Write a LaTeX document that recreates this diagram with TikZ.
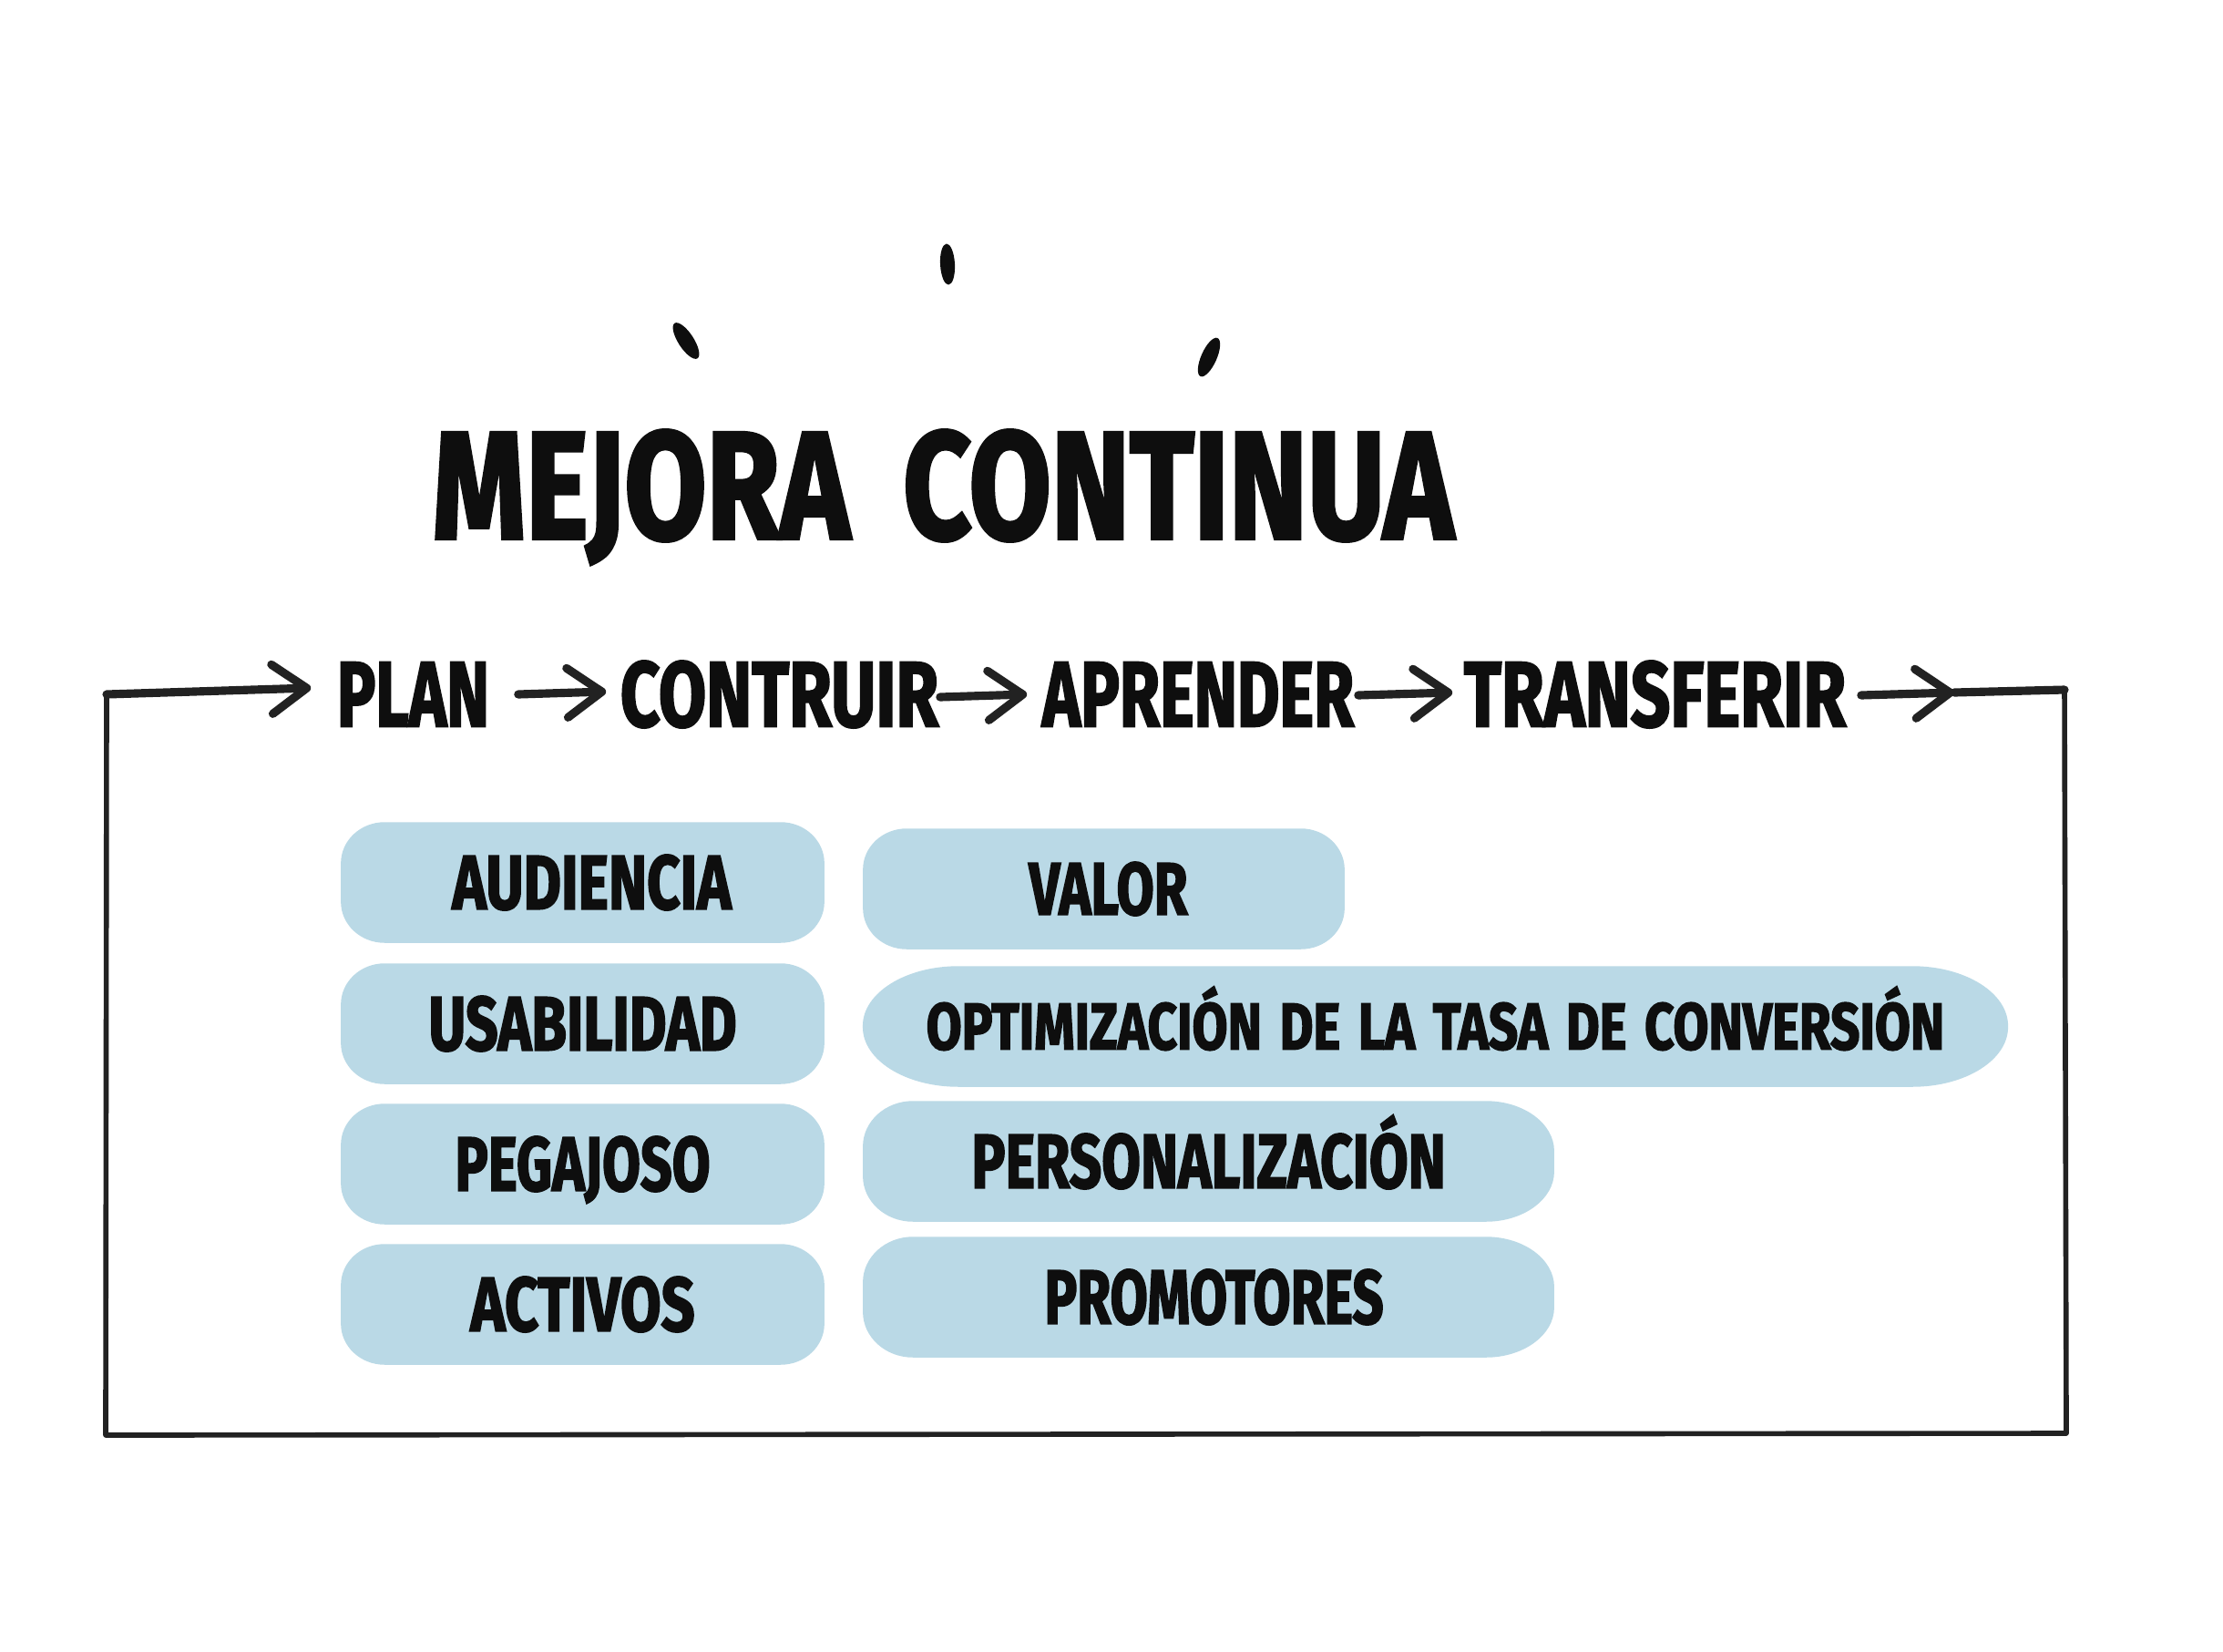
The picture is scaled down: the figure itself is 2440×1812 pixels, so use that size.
\documentclass[tikz,border=0pt]{standalone}
\usepackage{fontspec}
\usepackage{graphicx}
\usetikzlibrary{arrows.meta}
\newfontfamily\brush{Fira Sans}[FakeBold=2.5]
\definecolor{boxblue}{HTML}{BAD9E6}
\definecolor{ink}{HTML}{0E0E0E}
\definecolor{stroke}{HTML}{222222}
\pgfdeclarelayer{paper}
\pgfdeclarelayer{bg}
\pgfsetlayers{paper,bg,main}
% text squeezed to a given width and cap height (accents may stick out above)
\newcommand{\fitto}[3]{\resizebox{#1}{#2}{\brush\bfseries\raisebox{0pt}[\fontcharht\font`X][0pt]{#3}}}
% soft pill behind a node: name, left x/y corner radii, right x/y corner radii
\newcommand{\blob}[5]{%
  \fill[boxblue] ([xshift=#2]#1.north west) -- ([xshift=-#4]#1.north east)
    arc[start angle=90,end angle=0,x radius=#4,y radius=#5] -- ([yshift=#5]#1.south east)
    arc[start angle=0,end angle=-90,x radius=#4,y radius=#5] -- ([xshift=#2]#1.south west)
    arc[start angle=270,end angle=180,x radius=#2,y radius=#3] -- ([yshift=-#3]#1.north west)
    arc[start angle=180,end angle=90,x radius=#2,y radius=#3] -- cycle;}
\begin{document}
\begin{tikzpicture}[x=0.01cm,y=-0.01cm,
  word/.style={inner sep=0pt, text=ink},
  pill/.style={inner sep=0pt, text=ink, minimum height=1.31cm},
  brush/.style={draw=stroke, line width=2.6pt, line cap=round, line join=round},
  tip/.style={-{Straight Barb[length=0.38cm,width=0.54cm,line width=2.6pt,round]}},
  frame/.style={draw=stroke, line width=1.6pt, line cap=round, line join=round}]

\begin{pgfonlayer}{paper}
  \fill[white] (0,0) rectangle (2440,1812);
\end{pgfonlayer}
\useasboundingbox (0,0) rectangle (2440,1812);

% sparkle dots above the title
\fill[ink, shift={(753,374)}, rotate=33] (0,0) ellipse[x radius=0.085cm, y radius=0.23cm];
\fill[ink, shift={(1040,290)}, rotate=3] (0,0) ellipse[x radius=0.08cm, y radius=0.225cm];
\fill[ink, shift={(1327,392)}, rotate=-24] (0,0) ellipse[x radius=0.085cm, y radius=0.23cm];

% title
\node[word] (title) at (1035,533) {\fitto{11.2cm}{1.16cm}{MEJORA\hspace{0.45em}CONTINUA}};

% cycle steps
\node[word] (plan) at (453.5,762) {\fitto{1.67cm}{0.70cm}{PLAN}};
\node[word] (contruir) at (855.5,762) {\fitto{3.49cm}{0.70cm}{CONTRUIR}};
\node[word] (aprender) at (1315,762) {\fitto{3.42cm}{0.70cm}{APRENDER}};
\node[word] (transferir) at (1816.5,762) {\fitto{4.19cm}{0.70cm}{TRANSFERIR}};

% frame corners and the last arrow head
\coordinate (tl) at (117,762);
\coordinate (bl) at (116,1575);
\coordinate (br) at (2268,1573);
\coordinate (tr) at (2266,757);
\coordinate (hd) at (2145,760);

% frame
\draw[frame] (tl) -- (bl) -- (br) -- (tr);

% arrows between the steps
\draw[brush, tip] (tl) -- ([xshift=-0.28cm, yshift=0.07cm]plan.west);
\draw[brush, tip] ([xshift=0.31cm]plan.east) -- ([xshift=-0.15cm, yshift=0.03cm]contruir.west);
\draw[brush, tip] ([xshift=0.01cm, yshift=-0.03cm]contruir.east) -- ([xshift=-0.16cm]aprender.west);
\draw[brush, tip] ([xshift=0.04cm, yshift=-0.01cm]aprender.east) -- ([xshift=-0.12cm, yshift=0.02cm]transferir.west);
\draw[brush, tip] ([xshift=0.16cm, yshift=-0.01cm]transferir.east) -- (hd);
\draw[brush] (hd) -- (tr);

% left column
\node[pill, minimum width=5.29cm] (aud) at (639.5,968.5) {\hspace{0.2cm}\fitto{3.06cm}{0.58cm}{AUDIENCIA}};
\node[pill, minimum width=5.29cm] (usa) at (639.5,1123.5) {\fitto{3.38cm}{0.58cm}{USABILIDAD}};
\node[pill, minimum width=5.29cm] (peg) at (639.5,1277.5) {\fitto{2.80cm}{0.58cm}{PEGAJOSO}};
\node[pill, minimum width=5.29cm] (act) at (639.5,1431.5) {\fitto{2.46cm}{0.58cm}{ACTIVOS}};

% right column
\node[pill, minimum width=5.27cm] (val) at (1211.5,975.5) {\hspace{0.1cm}\fitto{1.74cm}{0.56cm}{VALOR}};
\node[pill, minimum width=12.55cm] (opt) at (1575.5,1126.5) {\fitto{11.17cm}{0.50cm}{OPTIMIZACIÓN\hspace{0.35em}DE\hspace{0.35em}LA\hspace{0.35em}TASA\hspace{0.35em}DE\hspace{0.35em}CONVERSIÓN}};
\node[pill, minimum width=7.57cm] (per) at (1326.5,1274.5) {\fitto{5.20cm}{0.58cm}{PERSONALIZACIÓN}};
\node[pill, minimum width=7.57cm] (pro) at (1326.5,1423.5) {\hspace{0.12cm}\fitto{3.72cm}{0.58cm}{PROMOTORES}};

\begin{pgfonlayer}{bg}
  \blob{aud}{0.48cm}{0.45cm}{0.48cm}{0.45cm}
  \blob{usa}{0.48cm}{0.45cm}{0.48cm}{0.45cm}
  \blob{peg}{0.48cm}{0.45cm}{0.48cm}{0.45cm}
  \blob{act}{0.48cm}{0.45cm}{0.48cm}{0.45cm}
  \blob{val}{0.48cm}{0.45cm}{0.48cm}{0.45cm}
  \blob{opt}{1.05cm}{0.655cm}{1.05cm}{0.655cm}
  \blob{per}{0.55cm}{0.5cm}{0.75cm}{0.55cm}
  \blob{pro}{0.55cm}{0.5cm}{0.75cm}{0.55cm}
\end{pgfonlayer}
\end{tikzpicture}
\end{document}
